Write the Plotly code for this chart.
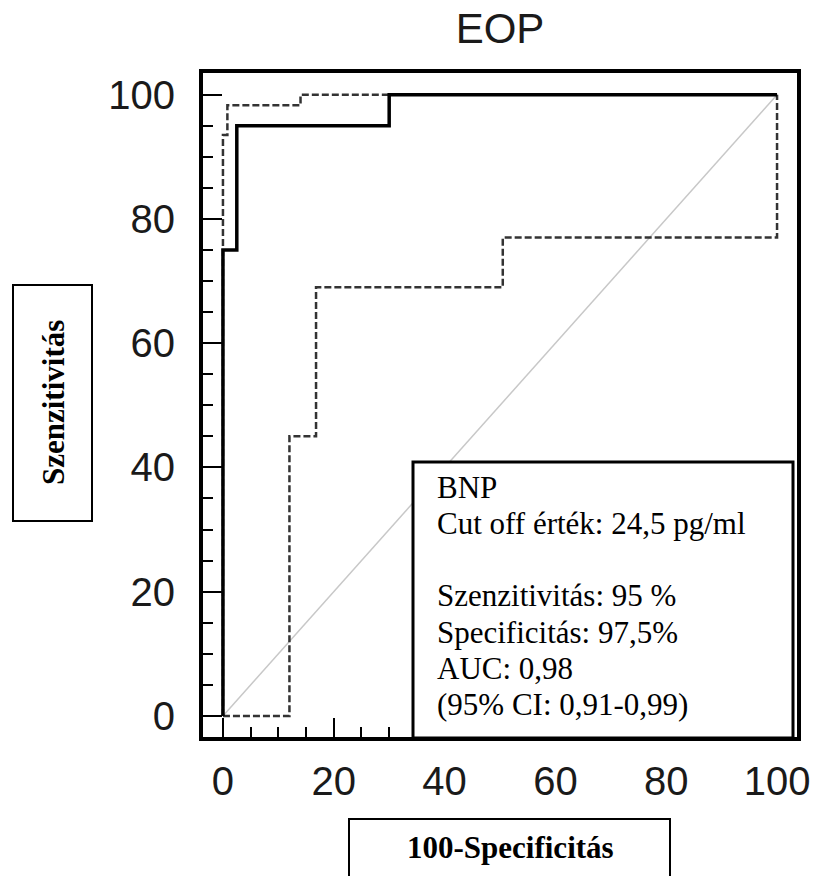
import plotly.graph_objects as go

# ---------------- data ----------------
title_text = "EOP"
roc_fpr = [0, 0, 2.5, 30, 100]
roc_tpr = [0, 75, 95, 100, 100]
upper_fpr = [0, 0, 0.8, 14, 100]
upper_tpr = [0, 93.5, 98.3, 100, 100]
lower_fpr = [0, 12, 16.8, 50.5, 100]
lower_tpr = [0, 45, 69, 77, 100]
ref_x = [0, 100]
ref_y = [0, 100]
tick_vals = [0, 20, 40, 60, 80, 100]
tick_text = ["0", "20", "40", "60", "80", "100"]
box_lines = ["BNP", "Cut off érték: 24,5 pg/ml", "", "Szenzitivitás: 95 %",
             "Specificitás: 97,5%", "AUC: 0,98", "(95% CI: 0,91-0,99)"]
y_label = "Szenzitivitás"
x_label = "100-Specificitás"

# ---------------- layout geometry (pixels) ----------------
W, H = 817, 876
L, R, T, B = 203, 797, 73, 737
PW, PH = R - L, B - T


def px(xp):
    return (xp - L) / PW


def py(yp):
    return (B - yp) / PH


SANS = "Liberation Sans, Arial, sans-serif"
SERIF = "Liberation Serif, Times New Roman, serif"

fig = go.Figure()
fig.add_trace(go.Scatter(x=ref_x, y=ref_y, mode="lines",
                         line=dict(color="#c8c8c8", width=1.5), hoverinfo="skip"))
fig.add_trace(go.Scatter(x=lower_fpr, y=lower_tpr, mode="lines", line_shape="hv",
                         line=dict(color="#333333", width=2.5, dash="7px,3px")))
fig.add_trace(go.Scatter(x=upper_fpr, y=upper_tpr, mode="lines", line_shape="hv",
                         line=dict(color="#333333", width=2.5, dash="7px,3px")))
fig.add_trace(go.Scatter(x=roc_fpr, y=roc_tpr, mode="lines", line_shape="hv",
                         line=dict(color="black", width=3.5)))

axis_common = dict(
    showgrid=False, zeroline=False, showline=True, linecolor="black", linewidth=4,
    mirror=True, ticks="inside", ticklen=19, tickwidth=2, tickcolor="black",
    tickvals=tick_vals, ticktext=tick_text,
    tickfont=dict(family=SANS, size=40, color="#1a1a1a"),
    minor=dict(dtick=5, ticks="inside", ticklen=10, tickwidth=2, tickcolor="black",
               showgrid=False),
    automargin=False, fixedrange=True,
)

fig.update_layout(
    width=W, height=H,
    margin=dict(l=L, r=W - R, t=T, b=H - B, autoexpand=False),
    paper_bgcolor="white", plot_bgcolor="white",
    showlegend=False,
    title=dict(text=title_text, x=px(500), xref="paper", xanchor="center",
               y=1 - 28 / H, yref="container", yanchor="middle",
               font=dict(family=SANS, size=42, color="#1a1a1a")),
    xaxis=dict(range=[-3.6, 103.6], ticklabelstandoff=6, **axis_common),
    yaxis=dict(range=[-3.4, 103.5], ticklabelstandoff=16, **axis_common),
)

shapes = []
# info box
shapes.append(dict(type="rect", xref="paper", yref="paper",
                   x0=px(413), x1=px(793), y0=py(738), y1=py(462),
                   line=dict(color="black", width=3), fillcolor="white", layer="above"))
# y label box
shapes.append(dict(type="rect", xref="paper", yref="paper",
                   x0=px(13), x1=px(92), y0=py(521), y1=py(285),
                   line=dict(color="black", width=2), fillcolor="white"))
# x label box
shapes.append(dict(type="rect", xref="paper", yref="paper",
                   x0=px(349), x1=px(670), y0=py(900), y1=py(819),
                   line=dict(color="black", width=2), fillcolor="white"))
fig.update_layout(shapes=shapes)

ann = []
base0, pitch = 497, 36.3
for i, line in enumerate(box_lines):
    if not line:
        continue
    ann.append(dict(text=line, xref="paper", yref="paper", x=px(435),
                    y=py(base0 + i * pitch - 10), xanchor="left", yanchor="middle",
                    showarrow=False, font=dict(family=SERIF, size=31, color="black")))
ann.append(dict(text="<b>" + y_label + "</b>", xref="paper", yref="paper",
                x=px(53), y=py(403), textangle=-90, xanchor="center", yanchor="middle",
                showarrow=False, font=dict(family=SERIF, size=31, color="black")))
ann.append(dict(text="<b>" + x_label + "</b>", xref="paper", yref="paper",
                x=px(510), y=py(847), xanchor="center", yanchor="middle",
                showarrow=False, font=dict(family=SERIF, size=31, color="black")))
fig.update_layout(annotations=ann)

fig.write_html("out.html")
